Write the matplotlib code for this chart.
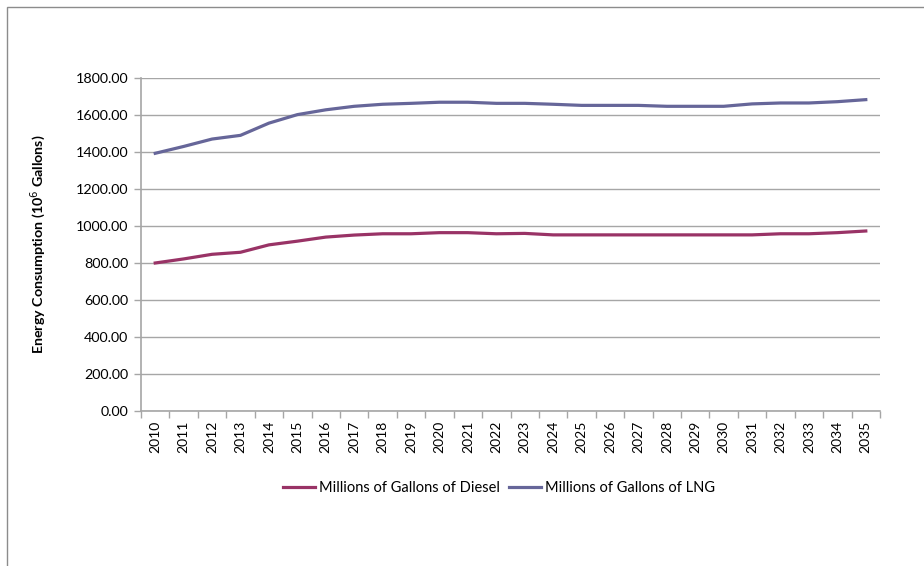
import matplotlib
matplotlib.use("Agg")
import matplotlib.pyplot as plt
from matplotlib.patches import Rectangle
import numpy as np

years = [str(y) for y in range(2010, 2036)]
diesel = [800, 822, 847, 858, 898, 918, 940, 951, 958, 958, 964, 964, 958,
          960, 952, 952, 952, 952, 952, 952, 952, 952, 958, 958, 964, 973]
lng = [1393, 1430, 1470, 1490, 1556, 1602, 1628, 1647, 1658, 1663, 1669, 1669, 1663,
       1663, 1658, 1652, 1652, 1652, 1647, 1647, 1647, 1660, 1665, 1665, 1672, 1683]
yticks = [0, 200, 400, 600, 800, 1000, 1200, 1400, 1600, 1800]

plt.rcParams['font.family'] = ['Lato', 'DejaVu Sans']

fig = plt.figure(figsize=(9.24, 5.66), dpi=100)
W, H = 924, 566
ax = fig.add_axes([141 / W, 1 - 411 / H, (880 - 141) / W, (411 - 78) / H])

x = np.arange(len(years))
grid_c = '#a6a6a6'
l1, = ax.plot(x, diesel, color='#993366', lw=2.3, label='Millions of Gallons of Diesel')
l2, = ax.plot(x, lng, color='#666699', lw=2.3, label='Millions of Gallons of LNG')

ax.set_xlim(-0.5, len(years) - 0.5)
ax.set_ylim(0, 1800)
ax.set_yticks(yticks)
ax.set_yticklabels([f"{v:.2f}" for v in yticks], fontsize=10.3, color='#000000')
ax.yaxis.grid(True, color=grid_c, lw=1)
ax.set_axisbelow(True)

ax.set_xticks(x)
ax.set_xticklabels(years, rotation=90, fontsize=10)
ax.set_xticks(np.arange(-0.5, len(years), 1), minor=True)
ax.tick_params(axis='x', which='major', length=0, pad=7)
ax.tick_params(axis='x', which='minor', length=5, color=grid_c, width=1)
ax.tick_params(axis='y', length=5, color=grid_c, width=1, pad=4)

for s in ['top', 'right']:
    ax.spines[s].set_visible(False)
for s in ['left', 'bottom']:
    ax.spines[s].set_color(grid_c)
    ax.spines[s].set_linewidth(1.2)

ax.set_ylabel('Energy Consumption (10$^6$ Gallons)', fontsize=10.3, fontweight='bold')
ax.yaxis.set_label_coords((48 - 141) / 739, 0.5)

fig.legend(handles=[l1, l2], loc='center', bbox_to_anchor=(499 / W, 1 - 488 / H),
           ncol=2, frameon=False, fontsize=10.5, handlelength=2.2, handletextpad=0.3,
           columnspacing=0.6)

# outer chart border (cropped)
fig.patches.append(Rectangle((7 / W, -0.1), 2, 1.1 - 7 / H, transform=fig.transFigure,
                             fill=False, edgecolor='#8c8c8c', lw=1))

fig.savefig('out.png', dpi=100, facecolor='white')
